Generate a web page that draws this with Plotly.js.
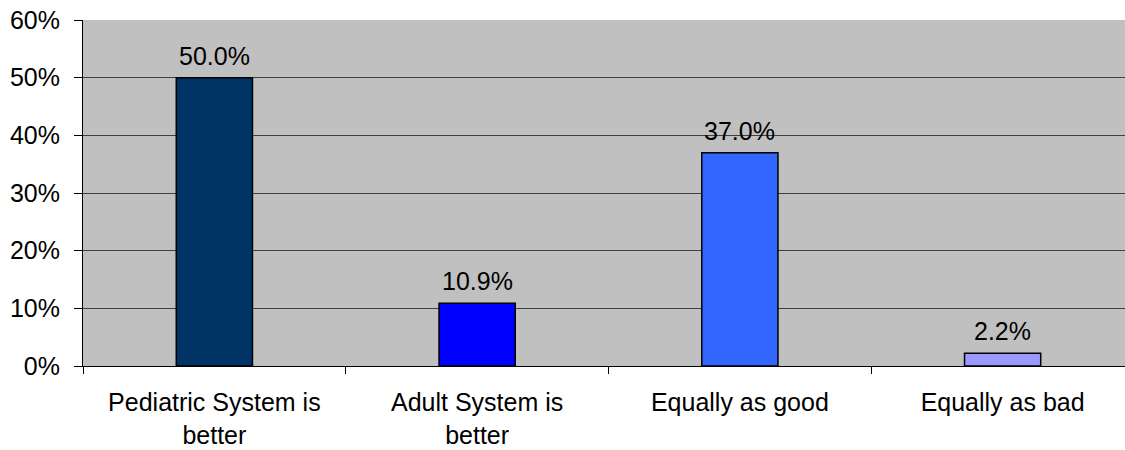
<!DOCTYPE html>
<html><head><meta charset="utf-8">
<script src="https://cdn.plot.ly/plotly-3.0.1.min.js"></script>
<style>html,body{margin:0;background:#fff;overflow:hidden}#c{width:1134px;height:450px}</style>
</head><body><div id="c"></div>
<script>
const categories = ["Pediatric System is<br>better", "Adult System is<br>better", "Equally as good", "Equally as bad"];
const values = [50.0, 10.9, 37.0, 2.2];
const labels = ["50.0%", "10.9%", "37.0%", "2.2%"];
const colors = ["#003366", "#0000FF", "#3366FF", "#9999FF"];
const yTicks = [0, 10, 20, 30, 40, 50, 60];
const yTickText = ["0%", "10%", "20%", "30%", "40%", "50%", "60%"];

const FONT = "Liberation Sans, Arial, sans-serif";
const annotations = categories.map((c, i) => ({
  x: c, y: values[i], xref: "x", yref: "y", text: labels[i], showarrow: false,
  yanchor: "bottom", yshift: 6, font: {family: FONT, size: 25, color: "#000"}
}));

Plotly.newPlot("c", [{
  type: "bar", x: categories, y: values,
  marker: {color: colors, line: {color: "#000", width: 1.5}},
  width: 0.29, hoverinfo: "none"
}], {
  width: 1134, height: 450,
  margin: {l: 82.6, r: 0, t: 20, b: 84},
  paper_bgcolor: "#fff", plot_bgcolor: "#C0C0C0",
  font: {family: FONT, size: 25, color: "#000"},
  showlegend: false,
  annotations: annotations,
  xaxis: {type: "category", showgrid: false, ticks: "outside", tickson: "boundaries",
          ticklen: 7, tickcolor: "#000", showline: true, linecolor: "#000", linewidth: 1,
          tickfont: {size: 25}, ticklabelstandoff: 14, fixedrange: true},
  yaxis: {range: [0, 60], tickvals: yTicks, ticktext: yTickText, ticks: "outside",
          ticklen: 8, tickcolor: "#000", showline: true, linecolor: "#000", linewidth: 1,
          gridcolor: "#404040", gridwidth: 1, zeroline: false, tickfont: {size: 25},
          ticklabelstandoff: 9, fixedrange: true}
}, {displayModeBar: false, staticPlot: true});
</script></body></html>
